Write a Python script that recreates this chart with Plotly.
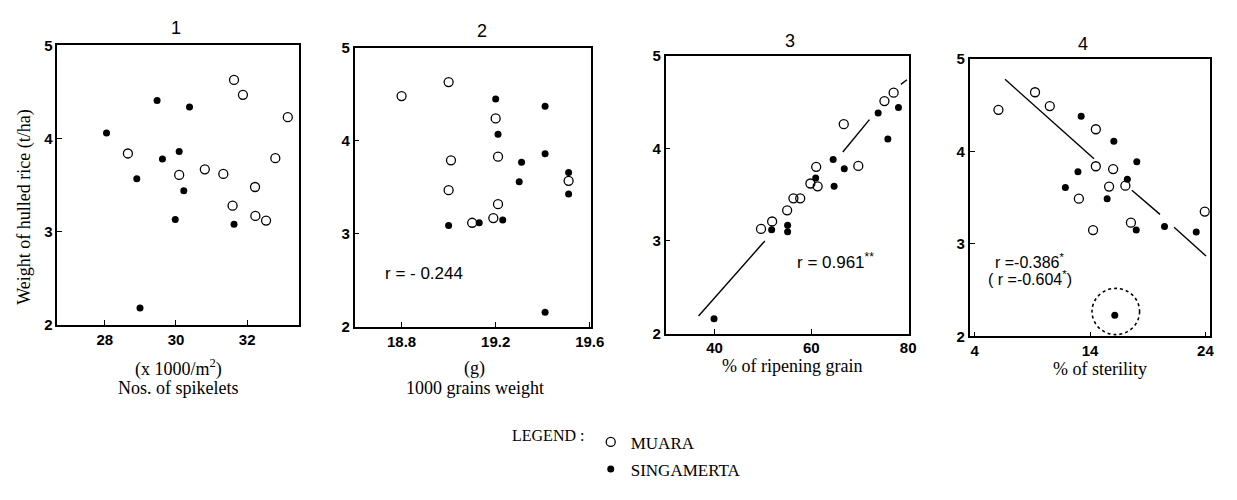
import plotly.graph_objects as go

W, H = 1237, 500

# ---------------- data ----------------
# Panel 1: Nos. of spikelets (x1000/m2)
p1_muara_x = [31.63, 31.88, 33.14, 28.65, 32.79, 30.81, 31.33, 30.09, 32.22, 31.59, 32.23, 32.53]
p1_muara_y = [4.63, 4.47, 4.23, 3.84, 3.79, 3.67, 3.62, 3.61, 3.48, 3.28, 3.17, 3.12]
p1_sing_x = [29.47, 30.38, 28.05, 30.09, 29.62, 28.90, 30.22, 29.98, 31.63, 28.99]
p1_sing_y = [4.41, 4.34, 4.06, 3.86, 3.78, 3.57, 3.44, 3.13, 3.08, 2.18]

# Panel 2: 1000 grains weight (g)
p2_muara_x = [18.80, 19.00, 19.20, 19.01, 19.21, 19.00, 19.21, 19.10, 19.19, 19.51]
p2_muara_y = [4.48, 4.63, 4.24, 3.79, 3.83, 3.47, 3.32, 3.12, 3.17, 3.57]
p2_sing_x = [19.20, 19.41, 19.21, 19.31, 19.41, 19.51, 19.30, 19.51, 19.00, 19.13, 19.23, 19.41]
p2_sing_y = [4.45, 4.37, 4.07, 3.77, 3.86, 3.66, 3.56, 3.43, 3.09, 3.12, 3.15, 2.16]

# Panel 3: % of ripening grain
p3_muara_x = [49.6, 51.9, 55.0, 56.3, 57.7, 59.8, 61.3, 61.0, 69.7, 66.7, 75.1, 77.0]
p3_muara_y = [3.13, 3.21, 3.33, 3.46, 3.46, 3.62, 3.59, 3.80, 3.81, 4.26, 4.51, 4.60]
p3_sing_x = [51.8, 55.1, 55.1, 60.9, 64.7, 64.5, 66.8, 73.8, 75.8, 78.0, 39.9]
p3_sing_y = [3.12, 3.17, 3.10, 3.68, 3.59, 3.88, 3.78, 4.38, 4.10, 4.44, 2.16]
p3_fit_x = [36.7, 50.4, None, 66.5, 72.0, None, 78.5, 79.75]
p3_fit_y = [2.19, 3.00, None, 3.96, 4.31, None, 4.69, 4.74]

# Panel 4: % of sterility
p4_muara_x = [6.06, 9.23, 10.51, 14.5, 14.5, 16.0, 15.65, 17.06, 13.03, 14.26, 17.54, 23.94]
p4_muara_y = [4.45, 4.64, 4.49, 4.24, 3.84, 3.81, 3.62, 3.63, 3.49, 3.15, 3.23, 3.35]
p4_sing_x = [13.23, 16.06, 18.05, 12.95, 17.23, 11.86, 15.48, 18.0, 20.45, 23.2, 16.14]
p4_sing_y = [4.38, 4.11, 3.89, 3.78, 3.70, 3.61, 3.49, 3.15, 3.19, 3.13, 2.23]
p4_fit_x = [6.63, 14.34, None, 17.62, 20.06, None, 21.28, 24.05]
p4_fit_y = [4.78, 3.92, None, 3.58, 3.32, None, 3.18, 2.87]

x_ticks = [[28, 30, 32], [18.8, 19.2, 19.6], [40, 60, 80], [4, 14, 24]]
x_ticklabels = [["28", "30", "32"], ["18.8", "19.2", "19.6"], ["40", "60", "80"], ["4", "14", "24"]]
x_ranges = [[26.67, 33.45], [18.6, 19.607], [29.9, 80.1], [3.57, 24.38]]
y_ticks = [2, 3, 4, 5]
y_ticklabels = ["2", "3", "4", "5"]
panel_titles = ["1", "2", "3", "4"]
x_titles = [["(x 1000/m<sup>2</sup>)", "Nos. of spikelets"], ["(g)", "1000 grains weight"],
            ["% of ripening grain"], ["% of sterility"]]
y_title = "Weight of hulled rice (t/ha)"

# ---------------- layout helpers (pixel boxes) ----------------
boxes = [(58, 302, 37.7, 327), (358.3, 597.7, 40, 329.3), (672.7, 918.3, 48.3, 336), (980, 1222.7, 51.7, 339)]
def px(x):
    return x / W
def py(y):
    return 1 - y / H

SANS = "Liberation Sans, Arial, sans-serif"
SERIF = "Liberation Serif, Times New Roman, serif"

fig = go.Figure()

series = [
    (p1_muara_x, p1_muara_y, p1_sing_x, p1_sing_y, None, None),
    (p2_muara_x, p2_muara_y, p2_sing_x, p2_sing_y, None, None),
    (p3_muara_x, p3_muara_y, p3_sing_x, p3_sing_y, p3_fit_x, p3_fit_y),
    (p4_muara_x, p4_muara_y, p4_sing_x, p4_sing_y, p4_fit_x, p4_fit_y),
]

for i, (mx, my, sx, sy, fx, fy) in enumerate(series):
    xa = "x" if i == 0 else f"x{i+1}"
    ya = "y" if i == 0 else f"y{i+1}"
    if fx is not None:
        fig.add_trace(go.Scatter(x=fx, y=fy, mode="lines", line=dict(color="black", width=1.4),
                                 xaxis=xa, yaxis=ya, showlegend=False, hoverinfo="skip"))
    fig.add_trace(go.Scatter(x=mx, y=my, mode="markers", name="MUARA",
                             marker=dict(symbol="circle-open", size=9, color="black", line=dict(width=1.3)),
                             xaxis=xa, yaxis=ya, showlegend=(i == 0), legendgroup="m"))
    fig.add_trace(go.Scatter(x=sx, y=sy, mode="markers", name="SINGAMERTA",
                             marker=dict(symbol="circle", size=7, color="black"),
                             xaxis=xa, yaxis=ya, showlegend=(i == 0), legendgroup="s"))

axis_common = dict(showline=True, mirror=True, linecolor="black", linewidth=1.6,
                   ticks="inside", ticklen=5, tickwidth=1.3, tickcolor="black",
                   showgrid=False, zeroline=False,
                   tickfont=dict(family=SANS, size=15, color="black"))

annotations = []
for i, (x0, x1, y0, y1) in enumerate(boxes):
    sfx = "" if i == 0 else str(i + 1)
    fig.layout["xaxis" + sfx] = dict(axis_common, domain=[px(x0), px(x1)], range=x_ranges[i],
                                     tickvals=x_ticks[i], ticktext=[f"<b>{t}</b>" for t in x_ticklabels[i]],
                                     anchor="y" + sfx)
    fig.layout["yaxis" + sfx] = dict(axis_common, domain=[py(y1), py(y0)], range=[2, 5],
                                     tickvals=y_ticks, ticktext=[f"<b>{t}</b>" for t in y_ticklabels],
                                     anchor="x" + sfx)

title_pos = [(177.7, 20), (486.7, 23), (798.3, 33), (1095, 36)]
for t, (x, y) in zip(panel_titles, title_pos):
    annotations.append(dict(text=t, x=px(x), y=py(y), xref="paper", yref="paper", showarrow=False,
                            xanchor="center", yanchor="middle", font=dict(family=SANS, size=18, color="black")))

xt_pos = [(180, [372, 392]), (480, [372, 392]), (800, [370]), (1112, [373])]
for lines, (x, ys) in zip(x_titles, xt_pos):
    for txt, y in zip(lines, ys):
        annotations.append(dict(text=txt, x=px(x), y=py(y), xref="paper", yref="paper", showarrow=False,
                                xanchor="center", yanchor="middle", font=dict(family=SERIF, size=18, color="black")))

annotations.append(dict(text=y_title, x=px(24), y=py(205), xref="paper", yref="paper", showarrow=False,
                        textangle=-90, xanchor="center", yanchor="middle",
                        font=dict(family=SERIF, size=18, color="black")))

# r-values
annotations += [
    dict(text="r = - 0.244", x=18.72, y=2.58, xref="x2", yref="y2", showarrow=False, xanchor="left",
         yanchor="middle", font=dict(family=SANS, size=17, color="black")),
    dict(text="r = 0.961<sup>**</sup>", x=56.6, y=2.78, xref="x3", yref="y3", showarrow=False, xanchor="left",
         yanchor="middle", font=dict(family=SANS, size=17, color="black")),
    dict(text="r =-0.386<sup>*</sup>", x=5.6, y=2.82, xref="x4", yref="y4", showarrow=False, xanchor="left",
         yanchor="middle", font=dict(family=SANS, size=16, color="black")),
    dict(text="( r =-0.604<sup>*</sup>)", x=5.0, y=2.63, xref="x4", yref="y4", showarrow=False, xanchor="left",
         yanchor="middle", font=dict(family=SANS, size=16, color="black")),
    dict(text="LEGEND :", x=px(592), y=py(442), xref="paper", yref="paper", showarrow=False, xanchor="right",
         yanchor="middle", font=dict(family=SERIF, size=16, color="black")),
]

shapes = [dict(type="circle", xref="x4", yref="y4", x0=16.23 - 2.06, x1=16.23 + 2.06,
               y0=2.27 - 0.25, y1=2.27 + 0.25, line=dict(color="black", width=1.6, dash="dot"))]

fig.update_layout(
    width=W, height=H, autosize=False,
    margin=dict(l=0, r=0, t=0, b=0),
    paper_bgcolor="white", plot_bgcolor="white",
    annotations=annotations, shapes=shapes,
    legend=dict(x=px(597), y=py(430), xanchor="left", yanchor="top", orientation="v",
                font=dict(family=SERIF, size=17, color="black"), tracegroupgap=2,
                bgcolor="rgba(0,0,0,0)", itemsizing="trace"),
    showlegend=True,
)

fig.write_html("out.html")
